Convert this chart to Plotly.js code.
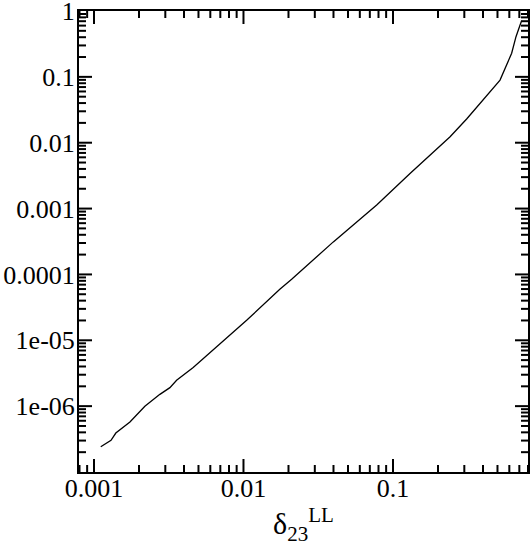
<!DOCTYPE html>
<html>
<head>
<meta charset="utf-8">
<script src="https://cdn.plot.ly/plotly-3.0.1.min.js"></script>
<style>
  html, body { margin: 0; padding: 0; background: #fff; }
  #plot { width: 532px; height: 546px; }
</style>
</head>
<body>
<div id="plot"></div>
<script>
// curve (log-log)
var delta = [0.00111, 0.00130, 0.00140, 0.00174, 0.00219, 0.00276, 0.00322, 0.00357,
  0.00461, 0.00697, 0.0105, 0.0175, 0.0210, 0.0399, 0.0778, 0.130, 0.241, 0.311,
  0.402, 0.520, 0.622, 0.665, 0.708, 0.724];
var ratio = [2.42e-7, 3.02e-7, 3.90e-7, 5.74e-7, 9.93e-7, 1.51e-6, 1.91e-6, 2.47e-6,
  3.85e-6, 8.91e-6, 2.01e-5, 5.96e-5, 8.45e-5, 3.12e-4, 1.13e-3, 3.41e-3, 0.0123, 0.0229,
  0.0444, 0.0894, 0.228, 0.407, 0.613, 0.705];

var xTickVals = [0.001, 0.01, 0.1];
var xTickText = ["0.001", "0.01", "0.1"];
var yTickVals = [1, 0.1, 0.01, 0.001, 0.0001, 1e-5, 1e-6];
var yTickText = ["1", "0.1", "0.01", "0.001", "0.0001", "1e-05", "1e-06"];

// minor ticks at 2..9 of each decade
function minorTicks(fromExp, toExp) {
  var out = [];
  for (var e = fromExp; e <= toExp; e++) {
    for (var m = 2; m <= 9; m++) out.push(m * Math.pow(10, e));
  }
  return out;
}
var xMinor = [0.0008, 0.0009].concat(minorTicks(-3, -1));
var yMinor = minorTicks(-7, -1);

var serif = "Liberation Serif";

// inside tick marks on all four sides, placed in data coords, length in pixels
var tickLine = {color: "#000", width: 2};
var shapes = [];
function xTicks(vals, len) {
  vals.forEach(function (v) {
    shapes.push({type: "line", xref: "x", yref: "paper", ysizemode: "pixel", yanchor: 0,
      x0: v, x1: v, y0: 0, y1: len, line: tickLine});
    shapes.push({type: "line", xref: "x", yref: "paper", ysizemode: "pixel", yanchor: 1,
      x0: v, x1: v, y0: 0, y1: -len, line: tickLine});
  });
}
function yTicks(vals, len) {
  vals.forEach(function (v) {
    shapes.push({type: "line", yref: "y", xref: "paper", xsizemode: "pixel", xanchor: 0,
      y0: v, y1: v, x0: 0, x1: len, line: tickLine});
    shapes.push({type: "line", yref: "y", xref: "paper", xsizemode: "pixel", xanchor: 1,
      y0: v, y1: v, x0: 0, x1: -len, line: tickLine});
  });
}
xTicks(xTickVals, 13);
xTicks(xMinor, 7);
yTicks(yTickVals.slice(1), 13);
yTicks(yMinor, 7);

var curve = {
  x: delta, y: ratio,
  type: "scatter", mode: "lines",
  line: {color: "#000", width: 1.3},
  showlegend: false, hoverinfo: "skip"
};

var base = {
  type: "log",
  showgrid: false,
  zeroline: false,
  showline: true,
  linecolor: "#000",
  linewidth: 2,
  mirror: true,
  ticks: "",
  tickmode: "array",
  ticklabeloverflow: "allow",
  tickfont: {family: serif, size: 26, color: "#000"}
};

var layout = {
  width: 532,
  height: 546,
  margin: {l: 79, r: 4, t: 11, b: 74},
  paper_bgcolor: "#fff",
  plot_bgcolor: "#fff",
  font: {family: serif, color: "#000"},
  shapes: shapes,
  xaxis: Object.assign({}, base, {
    range: [Math.log10(0.000794), Math.log10(0.8)],
    tickvals: xTickVals,
    ticktext: xTickText,
    ticklabelstandoff: -8,
    title: {
      text: "δ<sub>23</sub><sup>LL</sup>",
      font: {family: serif, size: 30, color: "#000"},
      standoff: 11
    }
  }),
  yaxis: Object.assign({}, base, {
    range: [-7, 0],
    tickvals: yTickVals,
    ticktext: yTickText,
    ticklabelstandoff: -3
  })
};

Plotly.newPlot("plot", [curve], layout, {displayModeBar: false, staticPlot: true});
</script>
</body>
</html>
